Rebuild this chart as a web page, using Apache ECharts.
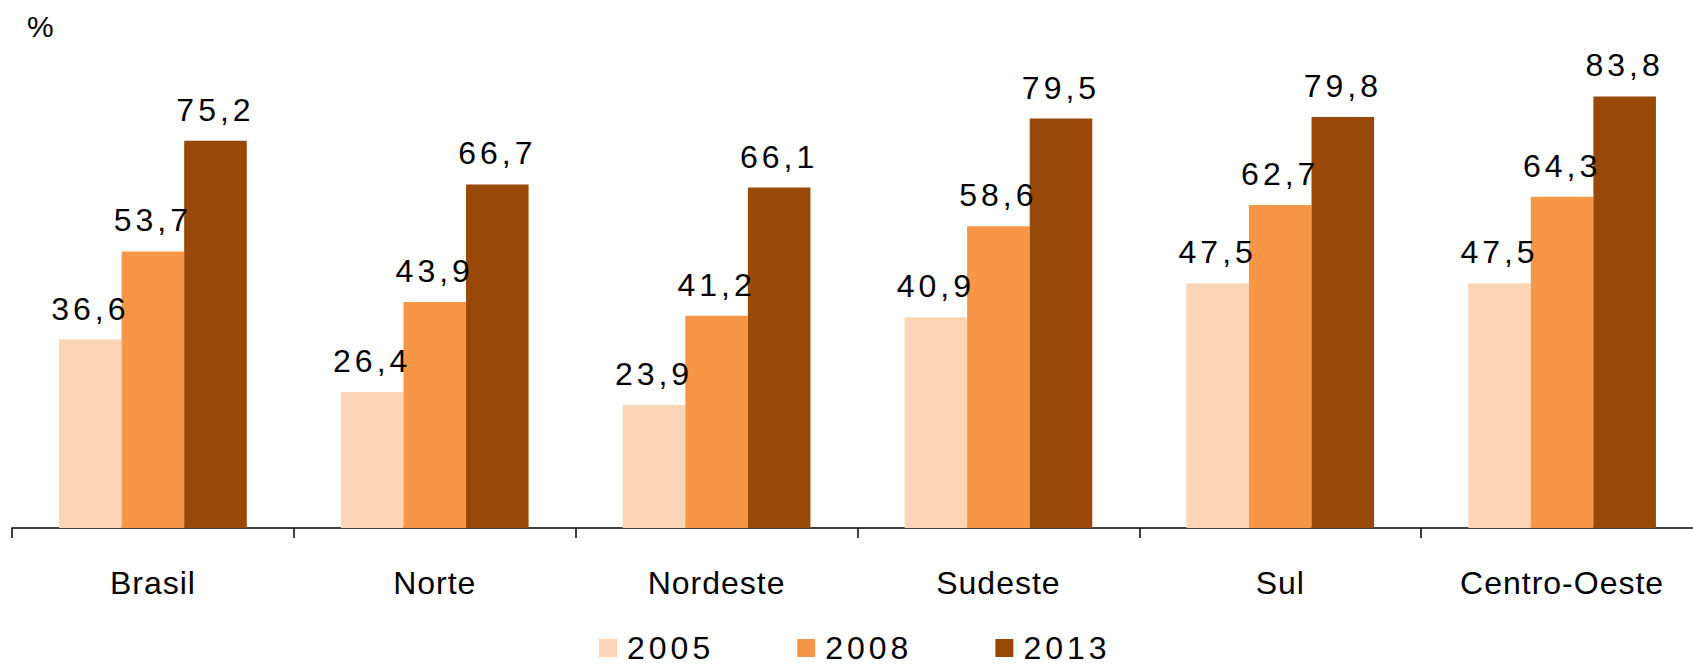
<!DOCTYPE html>
<html>
<head>
<meta charset="utf-8">
<script src="https://cdn.jsdelivr.net/npm/echarts@6/dist/echarts.min.js"></script>
<style>
  html, body { margin: 0; padding: 0; background: #ffffff; }
  #chart { width: 1693px; height: 666px; }
</style>
</head>
<body>
<div id="chart"></div>
<script>
// Regions and yearly percentages
const regions = ['Brasil', 'Norte', 'Nordeste', 'Sudeste', 'Sul', 'Centro-Oeste'];
const years = ['2005', '2008', '2013'];
const values2005 = [36.6, 26.4, 23.9, 40.9, 47.5, 47.5];
const values2008 = [53.7, 43.9, 41.2, 58.6, 62.7, 64.3];
const values2013 = [75.2, 66.7, 66.1, 79.5, 79.8, 83.8];
const yearColors = ['#FBD5B5', '#F79646', '#984807'];

const FONT = '"Liberation Sans", Arial, sans-serif';
const fmt = v => v.toFixed(1).replace('.', ',');

function barSeries(name, data, color) {
  return {
    name: name,
    type: 'bar',
    data: data,
    barGap: '0%',
    barCategoryGap: '33.4%',
    itemStyle: { color: color },
    label: {
      show: true,
      position: 'top',
      distance: 15,
      color: '#000',
      fontFamily: FONT,
      fontSize: 32,
      formatter: p => fmt(p.value)
    }
  };
}

const chart = echarts.init(document.getElementById('chart'), null, { renderer: 'svg' });
chart.setOption({
  animation: false,
  backgroundColor: '#ffffff',
  grid: { left: 12, top: 13, width: 1691, bottom: 138, containLabel: false, outerBoundsMode: 'none' },
  xAxis: {
    type: 'category',
    data: regions,
    axisLine: { show: true, lineStyle: { color: '#000', width: 1.5 } },
    axisTick: { show: true, length: 10, lineStyle: { color: '#000', width: 1.5 } },
    axisLabel: { color: '#000', fontFamily: FONT, fontSize: 32, margin: 39, interval: 0 }
  },
  yAxis: {
    type: 'value', min: 0, max: 100, show: false,
    splitLine: { show: false }
  },
  legend: {
    data: years,
    left: 599,
    top: 632,
    padding: 0,
    itemWidth: 18,
    itemHeight: 18,
    itemGap: 99,
    icon: 'rect',
    textStyle: { color: '#000', fontFamily: FONT, fontSize: 32, lineHeight: 24, padding: [0, 0, 0, 5] },
    selectedMode: false
  },
  graphic: [{
    type: 'text',
    left: 27,
    top: 11,
    style: { text: '%', fill: '#000', font: '30px ' + FONT }
  }],
  series: [
    barSeries(years[0], values2005, yearColors[0]),
    barSeries(years[1], values2008, yearColors[1]),
    barSeries(years[2], values2013, yearColors[2])
  ]
});

// Widen the tracking of the value labels and legend years, and slightly for region names
function applyTracking() {
  document.querySelectorAll('#chart text').forEach(t => {
    const s = (t.textContent || '').trim();
    if (/^\d+,\d$/.test(s) || /^\d{4}$/.test(s)) t.style.letterSpacing = '4px';
    else if (regions.indexOf(s) >= 0) t.style.letterSpacing = '1px';
  });
}
applyTracking();
chart.on('finished', applyTracking);
</script>
</body>
</html>
